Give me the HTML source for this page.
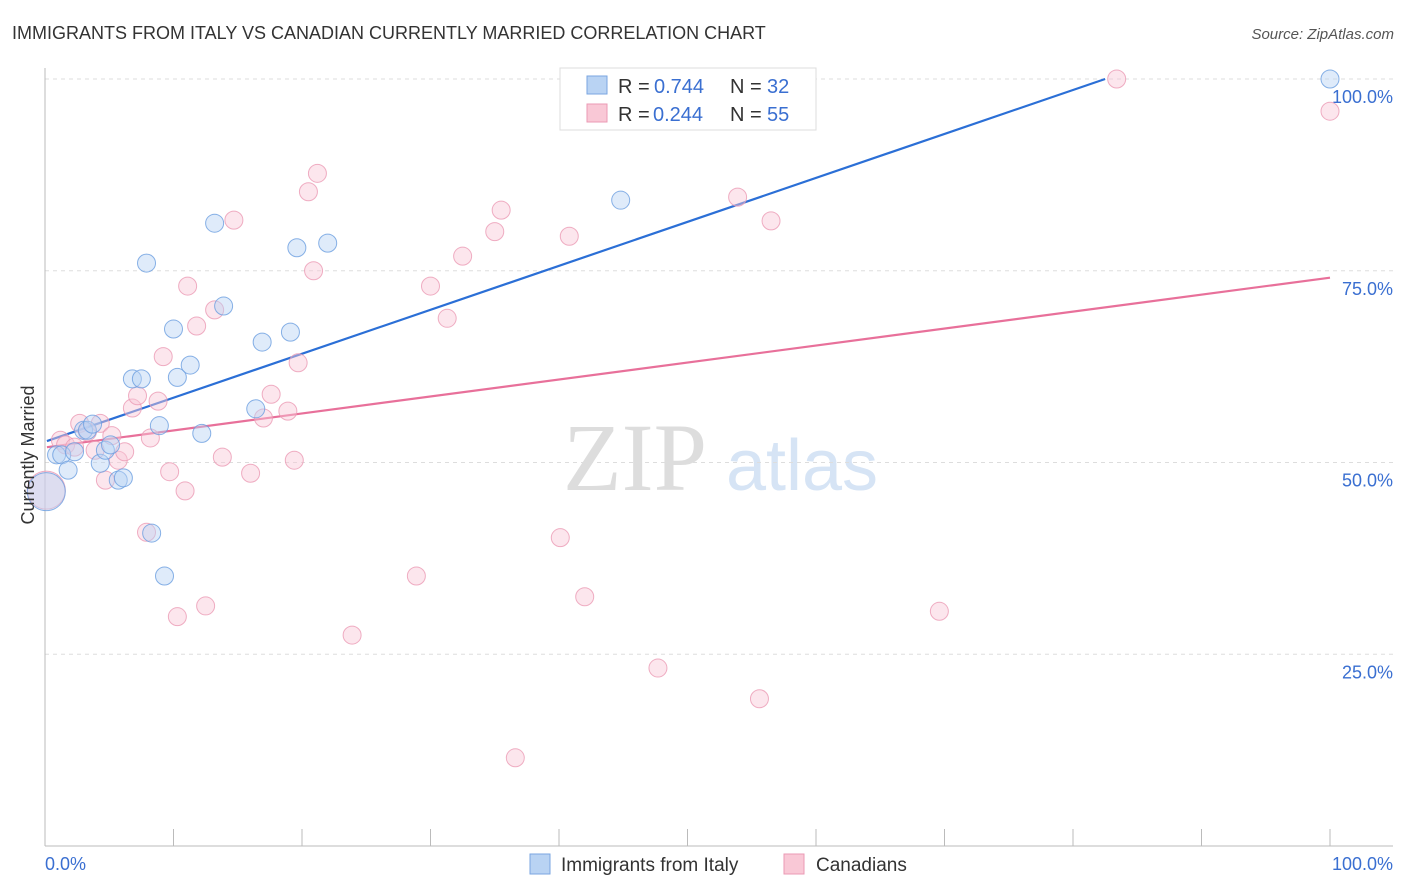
<!DOCTYPE html>
<html><head><meta charset="utf-8"><style>
body{margin:0;background:#fff;font-family:"Liberation Sans",sans-serif}
</style></head><body>
<svg width="1406" height="892" xmlns="http://www.w3.org/2000/svg" style="display:block">
<text x="12" y="39" font-size="18" fill="#333">IMMIGRANTS FROM ITALY VS CANADIAN CURRENTLY MARRIED CORRELATION CHART</text>
<text x="1394" y="39" font-size="15" fill="#555" font-style="italic" text-anchor="end">Source: ZipAtlas.com</text>
<g><text x="635" y="490" font-size="96" fill="#ddd" font-family="Liberation Serif,serif" text-anchor="middle">ZIP</text><text x="802" y="490" font-size="72" fill="#d6e4f5" text-anchor="middle">atlas</text></g>
<g id="grid"></g>
<g id="axes"></g>
<g id="lines"></g>
<g id="pts"></g>
<text x="34" y="455" font-size="18" fill="#333" text-anchor="middle" transform="rotate(-90 34 455)">Currently Married</text>
<g>
<rect x="560" y="68" width="256" height="62" fill="#fff" stroke="#ddd"/>
<rect x="587" y="76" width="20" height="18" fill="#b9d3f3" stroke="#7aa6e0"/>
<rect x="587" y="104" width="20" height="18" fill="#f9c8d6" stroke="#eb9ab4"/>
<text x="618" y="93" font-size="20" fill="#333">R =</text><text x="654" y="93" font-size="20" fill="#3a6fd1">0.744</text>
<text x="730" y="93" font-size="20" fill="#333">N =</text><text x="767" y="93" font-size="20" fill="#3a6fd1">32</text>
<text x="618" y="121" font-size="20" fill="#333">R =</text><text x="653" y="121" font-size="20" fill="#3a6fd1">0.244</text>
<text x="730" y="121" font-size="20" fill="#333">N =</text><text x="767" y="121" font-size="20" fill="#3a6fd1">55</text>
</g>
<g>
<rect x="530" y="854" width="20" height="20" fill="#b9d3f3" stroke="#7aa6e0"/>
<text x="561" y="871" font-size="19" fill="#333">Immigrants from Italy</text>
<rect x="784" y="854" width="20" height="20" fill="#f9c8d6" stroke="#eb9ab4"/>
<text x="816" y="871" font-size="19" fill="#333">Canadians</text>
</g>
</svg>
<script>
const yTicks=[25,50,75,100];
const yTickLabels=["25.0%","50.0%","75.0%","100.0%"];
const blueX=[0.1,0.9,1.3,1.8,2.3,3.0,3.3,3.7,4.3,4.7,5.1,5.7,6.1,6.8,7.5,7.9,8.3,8.9,9.3,10.0,10.3,11.3,12.2,13.2,13.9,16.4,16.9,19.1,19.6,22.0,44.8,100];
const blueY=[46.2,51.0,51.0,49.0,51.4,54.2,54.2,55.0,49.9,51.6,52.3,47.7,48.0,60.9,60.9,76.0,40.8,54.8,35.2,67.4,61.1,62.7,53.8,81.2,70.4,57.0,65.7,67.0,78.0,78.6,84.2,100];
const pinkX=[0.1,1.2,1.6,2.3,2.7,3.3,3.9,4.3,4.7,5.2,5.7,6.2,6.8,7.2,7.9,8.2,8.8,9.2,9.7,10.3,10.9,11.1,11.8,12.5,13.2,13.8,14.7,16.0,17.0,17.6,18.9,19.4,19.7,20.5,20.9,21.2,23.9,28.9,30.0,31.3,32.5,35.0,35.5,36.6,40.1,40.8,42.0,47.7,53.9,55.6,56.5,69.6,83.4,100];
const pinkY=[46.4,52.9,52.3,52.0,55.1,54.0,51.6,55.1,47.7,53.5,50.3,51.4,57.1,58.7,40.9,53.2,58.0,63.8,48.8,29.9,46.3,73.0,67.8,31.3,69.9,50.7,81.6,48.6,55.8,58.9,56.7,50.3,63.0,85.3,75.0,87.7,27.5,35.2,73.0,68.8,76.9,80.1,82.9,11.5,40.2,79.5,32.5,23.2,84.6,19.2,81.5,30.6,100,95.8];
const blueLine=[[0.15,52.8],[82.5,100]];
const pinkLine=[[0.15,52.0],[100,74.1]];
const X0=45,X1=1330,Y0=846,Y1=79;
const sx=v=>X0+(X1-X0)*v/100, sy=v=>Y0-(Y0-Y1)*v/100;
const NS="http://www.w3.org/2000/svg";
function mk(t,a,p){const e=document.createElementNS(NS,t);for(const k in a)e.setAttribute(k,a[k]);p.appendChild(e);return e;}
const grid=document.getElementById('grid'),axes=document.getElementById('axes');
yTicks.forEach((t,i)=>{
 const g=mk('line',{x1:X0,x2:1393,y1:sy(t),y2:sy(t),stroke:'#ddd','stroke-dasharray':'4 4'},grid);
 
 
 const l=mk('text',{x:1393,y:sy(t)+24,'font-size':18,fill:'#3a6fd1','text-anchor':'end'},axes);
 l.textContent=yTickLabels[i];
 
 
});
mk('line',{x1:X0,x2:X0,y1:68,y2:Y0,stroke:'#bbb'},axes);
mk('line',{x1:X0,x2:1393,y1:Y0,y2:Y0,stroke:'#bbb'},axes);
for(let i=0;i<=10;i++){const t=mk('line',{x1:sx(i*10),x2:sx(i*10),y1:829,y2:Y0,stroke:'#bbb'},axes);
 
 }
const xl0=mk('text',{x:45,y:870,'font-size':18,fill:'#3a6fd1'},axes);xl0.textContent='0.0%';


const xl1=mk('text',{x:1393,y:870,'font-size':18,fill:'#3a6fd1','text-anchor':'end'},axes);xl1.textContent='100.0%';


const pts=document.getElementById('pts');
function dots(xs,ys,fill,stroke,name){xs.forEach((x,i)=>{const c=mk('circle',{cx:sx(x),cy:sy(ys[i]),r:(x<0.5?19:9),fill:fill,'fill-opacity':0.45,stroke:stroke,'stroke-opacity':0.8,'stroke-width':1},pts);
 
 });}
dots(pinkX,pinkY,'#f9c8d6','#eb9ab4','canadians-point');
dots(blueX,blueY,'#b9d3f3','#6a9de0','italy-point');
const lines=document.getElementById('lines');
const bl=mk('line',{x1:sx(blueLine[0][0]),y1:sy(blueLine[0][1]),x2:sx(blueLine[1][0]),y2:sy(blueLine[1][1]),stroke:'#2b6fd6','stroke-width':2.2},lines);


const pl=mk('line',{x1:sx(pinkLine[0][0]),y1:sy(pinkLine[0][1]),x2:sx(pinkLine[1][0]),y2:sy(pinkLine[1][1]),stroke:'#e8709a','stroke-width':2.2},lines);


</script>
</body></html>
